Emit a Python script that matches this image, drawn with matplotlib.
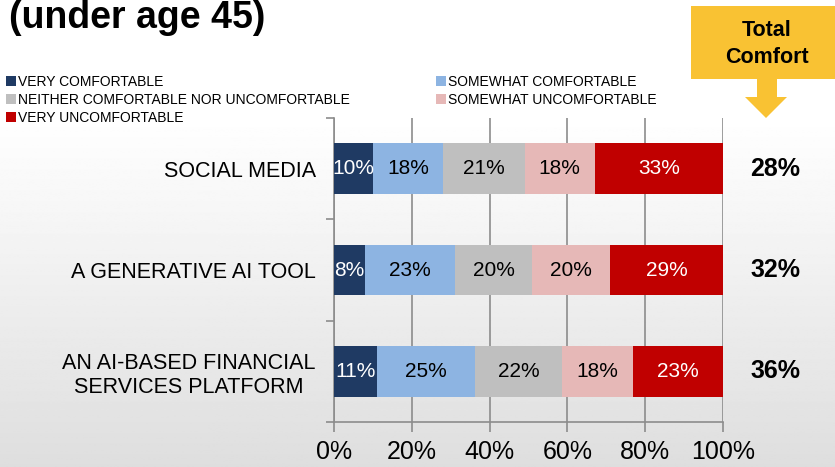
import numpy as np
import matplotlib
matplotlib.use("Agg")
import matplotlib.pyplot as plt
from matplotlib.patches import Rectangle, Polygon

plt.rcParams['font.family'] = ['Liberation Sans', 'DejaVu Sans']

# ---------------- data ----------------
categories = ["SOCIAL MEDIA", "A GENERATIVE AI TOOL",
              "AN AI-BASED FINANCIAL\nSERVICES PLATFORM"]
series_names = ["VERY COMFORTABLE", "SOMEWHAT COMFORTABLE",
                "NEITHER COMFORTABLE NOR UNCOMFORTABLE",
                "SOMEWHAT UNCOMFORTABLE", "VERY UNCOMFORTABLE"]
very_comfortable = [10, 8, 11]
somewhat_comfortable = [18, 23, 25]
neither = [21, 20, 22]
somewhat_uncomfortable = [18, 20, 18]
very_uncomfortable = [33, 29, 23]
total_comfort = ["28%", "32%", "36%"]
x_ticks = [0, 20, 40, 60, 80, 100]
x_tick_labels = ["0%", "20%", "40%", "60%", "80%", "100%"]

colors = ["#1F3A63", "#8DB4E2", "#BFBFBF", "#E6B8B7", "#C00000"]
label_colors = ["white", "black", "black", "black", "white"]

W, H = 835, 467
fig = plt.figure(figsize=(W / 100, H / 100), dpi=100)

# background gradient
bg = fig.add_axes([0, 0, 1, 1], zorder=-10)
t = np.linspace(0, 1, 400)
g = np.where(t < 0.25, 255, 255 - (t - 0.25) / 0.75 * 33) / 255.0
img = np.repeat(g[:, None], 2, axis=1)
bg.imshow(img, cmap='gray', vmin=0, vmax=1, aspect='auto', extent=[0, 1, 0, 1])
bg.set_axis_off()

# main axes
x0, x1 = 334, 723
ytop, ybot = 118, 422
ax = fig.add_axes([x0 / W, 1 - ybot / H, (x1 - x0) / W, (ybot - ytop) / H])
ax.set_facecolor('none')

data = np.array([very_comfortable, somewhat_comfortable, neither,
                 somewhat_uncomfortable, very_uncomfortable], dtype=float)
pct = data / data.sum(axis=0) * 100
y = np.arange(len(categories))
left = np.zeros(len(categories))
handles = []
for i in range(len(series_names)):
    bars = ax.barh(y, pct[i], left=left, height=0.5, color=colors[i],
                   label=series_names[i], zorder=3)
    handles.append(bars)
    for j in range(len(categories)):
        ax.text(left[j] + pct[i][j] / 2, y[j], f"{int(data[i][j])}%",
                ha='center', va='center', fontsize=15, color=label_colors[i],
                zorder=4)
    left += pct[i]

ax.set_xlim(0, 100)
ax.set_ylim(len(categories) - 0.5, -0.5)
ax.set_xticks(x_ticks)
ax.set_xticklabels(x_tick_labels, fontsize=18)
ax.set_yticks(y)
ax.set_yticklabels(categories, fontsize=15.5, multialignment='center')
ax.set_yticks(np.arange(-0.5, len(categories)), minor=True)
ax.tick_params(axis='y', which='major', length=0, pad=13)
ax.tick_params(axis='y', which='minor', length=6, color='#8C8C8C', width=1.2)
ax.tick_params(axis='x', length=7, color='#8C8C8C', width=1.2, pad=6)
ax.grid(axis='x', color='#8C8C8C', linewidth=1.2, zorder=0)
for s in ['top', 'right']:
    ax.spines[s].set_visible(False)
for s in ['left', 'bottom']:
    ax.spines[s].set_color('#8C8C8C')
    ax.spines[s].set_linewidth(1.2)

# total comfort values
for j in range(len(categories)):
    ax.text((775 - x0) / (x1 - x0), y[j], total_comfort[j],
            transform=ax.get_yaxis_transform(), ha='center', va='center',
            fontsize=18, fontweight='bold', color='black')

# title
fig.text(9 / W, 1 - 28 / H, "(under age 45)", fontsize=27,
         fontweight='bold', ha='left', va='baseline')

# legend
order = [0, 2, 4, 1, 3]
fig.legend([handles[k] for k in order], [series_names[k] for k in order],
           ncol=2, loc='upper left', bbox_to_anchor=(6 / W, 1 - 75 / H),
           frameon=False, fontsize=10, handlelength=0.7, handleheight=0.7,
           handletextpad=0.15, labelspacing=0.28, columnspacing=6.25,
           borderpad=0, borderaxespad=0)

# yellow callout
yellow = '#F9C233'
fig.add_artist(Rectangle((691 / W, 1 - 79 / H), (840 - 691) / W, 73 / H,
                         transform=fig.transFigure, facecolor=yellow,
                         edgecolor='none'))
arrow_px = [(757, 79), (777, 79), (777, 97), (787, 97), (766, 118),
            (745, 97), (757, 97)]
fig.add_artist(Polygon([(px / W, 1 - py / H) for px, py in arrow_px],
                       closed=True, transform=fig.transFigure,
                       facecolor=yellow, edgecolor='none'))
fig.text(767 / W, 1 - 44 / H, "Total\nComfort", fontsize=15.5,
         fontweight='bold', ha='center', va='center', linespacing=1.35)

fig.savefig("out.png", dpi=100)
